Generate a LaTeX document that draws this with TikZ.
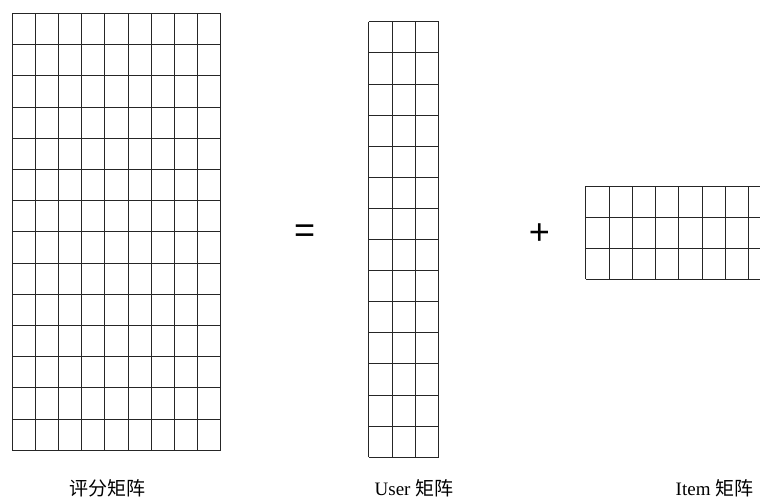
\documentclass[tikz,border=0pt]{standalone}
\usepackage{fontspec}
\setmainfont{Liberation Serif}
\newfontfamily\cjk{Noto Sans CJK SC}
\newfontfamily\symfont{Liberation Sans}
\begin{document}
\begin{tikzpicture}[x=1pt,y=-1pt,
  gridline/.style={draw=black!85,line width=1pt},
  lbl/.style={inner sep=0pt,font=\fontsize{19}{22}\selectfont},
  opsym/.style={inner sep=0pt,font=\symfont\fontsize{36}{40}\selectfont}]
\useasboundingbox (0,0) rectangle (760,499);
\clip (0,0) rectangle (760,499);
% rating matrix 9x14
\foreach \i in {0,...,9} \draw[gridline] (12+\i*23.2,13.5) -- (12+\i*23.2,450.3);
\foreach \j in {0,...,14} \draw[gridline] (12,13.5+\j*31.2) -- (220.8,13.5+\j*31.2);
% user matrix 3x14
\foreach \i in {0,...,3} \draw[gridline] (368.7+\i*23.33,21.8) -- (368.7+\i*23.33,457.2);
\foreach \j in {0,...,14} \draw[gridline] (368.7,21.8+\j*31.1) -- (438.7,21.8+\j*31.1);
% item matrix 8x3
\foreach \i in {0,...,8} \draw[gridline] (585.7+\i*23.3,186) -- (585.7+\i*23.3,279.3);
\foreach \j in {0,...,3} \draw[gridline] (585.7,186+\j*31.1) -- (772.1,186+\j*31.1);
% operators
\node[opsym] (eq) at (304.7,234) {=};
\node[opsym] (plus) at (539.3,234.3) {+};
% labels
\node[lbl] (l1) at (107,488) {\cjk 评分矩阵};
\node[lbl] (l2) at (414,488) {User {\cjk 矩阵}};
\node[lbl] (l3) at (714.5,488) {Item {\cjk 矩阵}};
\end{tikzpicture}
\end{document}
